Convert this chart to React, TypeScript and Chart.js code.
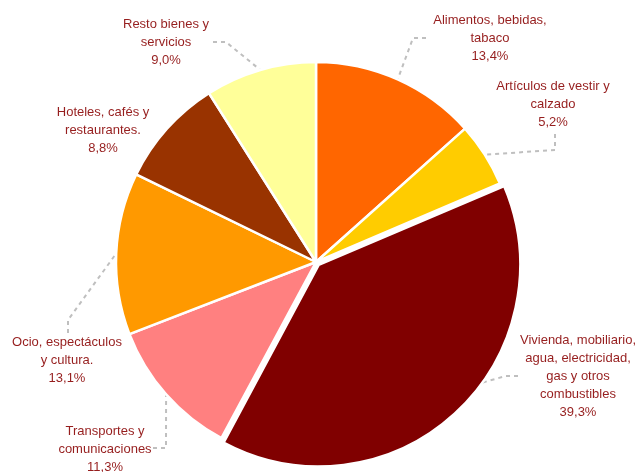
import React, { useEffect, useRef } from "react";
import { Chart, registerables } from "chart.js";

Chart.register(...registerables);

const categories = [
  "Alimentos, bebidas, tabaco",
  "Artículos de vestir y calzado",
  "Vivienda, mobiliario, agua, electricidad, gas y otros combustibles",
  "Transportes y comunicaciones",
  "Ocio, espectáculos y cultura.",
  "Hoteles, cafés y restaurantes.",
  "Resto bienes y servicios",
];
const values = [13.4, 5.2, 39.3, 11.3, 13.1, 8.8, 9.0];
const labelLines = [
  ["Alimentos, bebidas,", "tabaco"],
  ["Artículos de vestir y", "calzado"],
  ["Vivienda, mobiliario,", "agua, electricidad,", "gas y otros", "combustibles"],
  ["Transportes y", "comunicaciones"],
  ["Ocio, espectáculos", "y cultura."],
  ["Hoteles, cafés y", "restaurantes."],
  ["Resto bienes y", "servicios"],
];
const colors = ["#FF6600", "#FFCC00", "#800000", "#FF8080", "#FF9900", "#993300", "#FFFF99"];

// layout of label text blocks (center x, first line middle y)
const labelPos = [
  [490, 20],
  [553, 86],
  [578, 340],
  [105, 431],
  [67, 342],
  [103, 112],
  [166, 24],
];
// leader lines: label-side points, then fraction along slice where it meets the pie
const leaders: ([number, number][] | null)[] = [
  [[426, 38], [413, 38]],
  [[555, 134], [555, 150]],
  [[518, 376], [506, 376]],
  [[153, 448], [166, 448]],
  [[68, 333], [68, 320]],
  null,
  [[213, 42], [226, 42]],
];
const leaderFrac = [0.5, 0.5, 0.42, 0.5, 0.5, 0.5, 0.5];
// Chart.js translates an arc by offset/4
const offsets = [0, 0, 16, 0, 0, 0, 0];

const labelPlugin = {
  id: "outLabels",
  beforeDatasetsDraw(chart: any) {
    const ctx = chart.ctx;
    const meta = chart.getDatasetMeta(0);
    ctx.save();
    ctx.strokeStyle = "#BFBFBF";
    ctx.lineWidth = 2;
    ctx.setLineDash([4, 4]);
    meta.data.forEach((arc: any, i: number) => {
      const pts = leaders[i];
      if (!pts) return;
      const p = arc.getProps(["x", "y", "startAngle", "endAngle", "outerRadius"], true);
      const a = p.startAngle + (p.endAngle - p.startAngle) * leaderFrac[i];
      const mid = (p.startAngle + p.endAngle) / 2;
      const off = offsets[i] / 4;
      const ex = p.x + Math.cos(mid) * off + Math.cos(a) * p.outerRadius;
      const ey = p.y + Math.sin(mid) * off + Math.sin(a) * p.outerRadius;
      ctx.beginPath();
      ctx.moveTo(pts[0][0], pts[0][1]);
      for (let k = 1; k < pts.length; k++) ctx.lineTo(pts[k][0], pts[k][1]);
      ctx.lineTo(ex, ey);
      ctx.stroke();
    });
    ctx.restore();
  },
  afterDatasetsDraw(chart: any) {
    const ctx = chart.ctx;
    ctx.save();
    ctx.fillStyle = "#961E1E";
    ctx.font = "13px 'Liberation Sans', Arial, sans-serif";
    ctx.textAlign = "center";
    ctx.textBaseline = "middle";
    values.forEach((v, i) => {
      const lines = [...labelLines[i], v.toFixed(1).replace(".", ",") + "%"];
      const [x, y] = labelPos[i];
      lines.forEach((t, k) => ctx.fillText(t, x, y + k * 18));
    });
    ctx.restore();
  },
};

export default function App() {
  const ref = useRef<HTMLCanvasElement>(null);
  useEffect(() => {
    document.body.style.margin = "0";
    const chart = new Chart(ref.current!, {
      type: "pie",
      data: {
        labels: categories,
        datasets: [
          {
            data: values,
            backgroundColor: colors,
            borderColor: "#FFFFFF",
            borderWidth: 2.5,
            offset: offsets,
          },
        ],
      },
      options: {
        animation: false,
        responsive: false,
        radius: 200,
        layout: { padding: { top: 52, bottom: 0, left: 0, right: 9 } },
        plugins: { legend: { display: false }, tooltip: { enabled: false } },
      } as any,
      plugins: [labelPlugin],
    });
    return () => chart.destroy();
  }, []);
  return (
    <div style={{ width: 641, height: 472 }}>
      <canvas ref={ref} width={641} height={472} />
    </div>
  );
}
